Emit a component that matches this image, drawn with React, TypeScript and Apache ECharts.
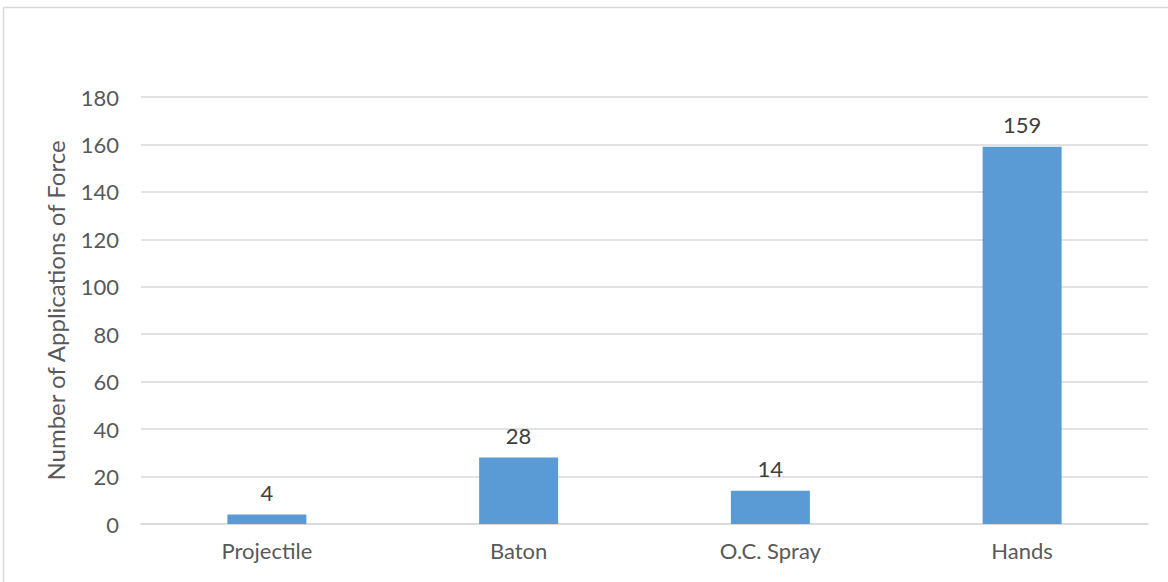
import React, { useEffect, useRef } from "react";
import * as echarts from "echarts";

const categories = ["Projectile", "Baton", "O.C. Spray", "Hands"];
const values = [4, 28, 14, 159];
const yAxisTitle = "Number of Applications of Force";

const FONT = "Lato, 'Liberation Sans', sans-serif";

export default function App() {
  const ref = useRef<HTMLDivElement>(null);
  useEffect(() => {
    if (!ref.current) return;
    const chart = echarts.init(ref.current, undefined, { renderer: "svg" });
    chart.setOption({
      animation: false,
      backgroundColor: "#ffffff",
      textStyle: { fontFamily: FONT },
      grid: { left: 141, right: 20, top: 97, bottom: 58, containLabel: false },
      graphic: [
        {
          type: "rect",
          shape: { x: 3.5, y: 7.5, width: 1300, height: 700 },
          style: { fill: "none", stroke: "#d9d9d9", lineWidth: 1.5 },
          silent: true,
          z: -1,
        },
      ],
      xAxis: {
        type: "category",
        data: categories,
        axisLine: { show: true, lineStyle: { color: "#d9d9d9", width: 1.5 } },
        axisTick: { show: false },
        axisLabel: { color: "#595959", fontSize: 22, margin: 15, fontFamily: FONT },
      },
      yAxis: {
        type: "value",
        min: 0,
        max: 180,
        interval: 20,
        name: yAxisTitle,
        nameLocation: "middle",
        nameGap: 74,
        nameRotate: 90,
        nameTextStyle: { color: "#595959", fontSize: 24, fontFamily: FONT },
        axisLine: { show: false },
        axisTick: { show: false },
        axisLabel: { color: "#595959", fontSize: 22, margin: 22, fontFamily: FONT },
        splitLine: { show: true, lineStyle: { color: "#d9d9d9", width: 1.5 } },
      },
      series: [
        {
          type: "bar",
          data: values,
          barWidth: 79,
          itemStyle: { color: "#5b9bd5" },
          label: {
            show: true,
            position: "top",
            distance: 11,
            color: "#404040",
            fontSize: 22,
            fontFamily: FONT,
          },
        },
      ],
    });
    return () => chart.dispose();
  }, []);
  return (
    <div
      ref={ref}
      style={{ position: "fixed", left: 0, top: 0, width: 1168, height: 582 }}
    />
  );
}
